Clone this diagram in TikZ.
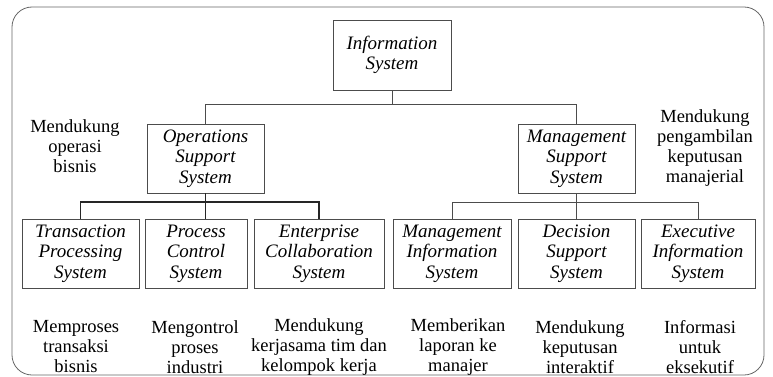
\documentclass[tikz,border=0pt]{standalone}
\usepackage{fontspec}
\setmainfont{Liberation Serif}
\begin{document}
\begin{tikzpicture}[x=1pt,y=-1pt,
  box/.style={draw=black!70, line width=0.8pt, minimum height=69pt, inner sep=0pt,
    align=center, font=\fontsize{19}{20.5}\selectfont\itshape},
  note/.style={align=center, inner sep=0pt, font=\fontsize{18.5}{20}\selectfont},
  link/.style={draw=black!70, line width=0.9pt}]
\useasboundingbox (0,0) rectangle (773,377);
\draw[black!60, line width=0.8pt, rounded corners=20pt] (12,7) rectangle (764,375);

\node[box, minimum width=118pt, minimum height=70pt] (is) at (392,55) {Information\\System};
\node[box, minimum width=117pt] (oss) at (205.5,158.5) {Operations\\Support\\System};
\node[box, minimum width=117pt] (mss) at (576.5,158.5) {Management\\Support\\System};

\node[box, minimum width=117pt] (tps) at (80.5,253.5) {Transaction\\Processing\\System};
\node[box, minimum width=102pt] (pcs) at (196,253.5) {Process\\Control\\System};
\node[box, minimum width=130pt] (ecs) at (319,253.5) {Enterprise\\Collaboration\\System};
\node[box, minimum width=118pt] (mis) at (452,253.5) {Management\\Information\\System};
\node[box, minimum width=117pt] (dss) at (576.5,253.5) {Decision\\Support\\System};
\node[box, minimum width=114pt] (eis) at (698,253.5) {Executive\\Information\\System};

\coordinate (bus1) at (392,104);
\coordinate (bus2) at (205.5,202);
\coordinate (bus3) at (576.5,202);

\draw[link] (is) -- (bus1);
\draw[link] (bus1) -| (oss);
\draw[link] (bus1) -| (mss);

\draw[link, line width=1.1pt, draw=black!85] (oss) -- (bus2);
\draw[link, line width=1.1pt, draw=black!85] (bus2) -| (tps);
\draw[link, line width=1.1pt, draw=black!85] (bus2) -| (ecs);
\draw[link, line width=1.1pt, draw=black!85] (bus2) -- (bus2 |- pcs.north);

\draw[link] (mss) -- (dss);
\draw[link] (bus3) -| (mis);
\draw[link] (bus3) -| (eis);

\node[note] (n0) at (75,146) {Mendukung\\operasi\\bisnis};
\node[note] (n1) at (705,148) {Mendukung\\pengambilan\\keputusan\\manajerial};

\node[note] (t1) at (76,347) {Memproses\\transaksi\\bisnis};
\node[note] (t2) at (195,347) {Mengontrol\\proses\\industri};
\node[note] (t3) at (319,347) {Mendukung\\kerjasama tim dan\\kelompok kerja};
\node[note] (t4) at (458,347) {Memberikan\\laporan ke\\manajer};
\node[note] (t5) at (580,347) {Mendukung\\keputusan\\interaktif};
\node[note] (t6) at (700,347) {Informasi\\untuk\\eksekutif};
\end{tikzpicture}
\end{document}
